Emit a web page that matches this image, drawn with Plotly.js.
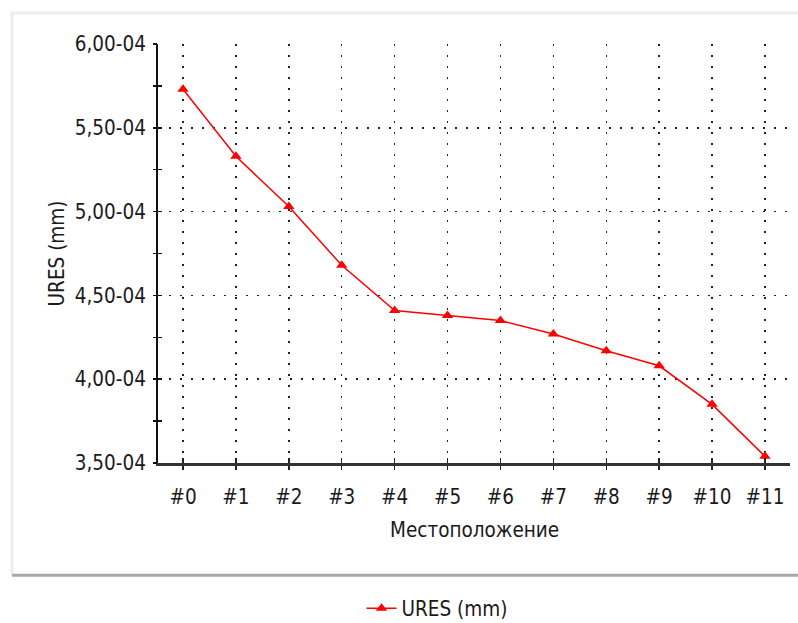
<!DOCTYPE html>
<html>
<head>
<meta charset="utf-8">
<script src="https://cdn.plot.ly/plotly-3.0.1.min.js"></script>
<style>
html,body{margin:0;padding:0;background:#fff;}
#chart{width:798px;height:623px;}
</style>
</head>
<body>
<div id="chart"></div>
<script>
const categories = ['#0','#1','#2','#3','#4','#5','#6','#7','#8','#9','#10','#11'];
const ures = [5.73e-4, 5.33e-4, 5.03e-4, 4.68e-4, 4.41e-4, 4.38e-4, 4.35e-4, 4.27e-4, 4.17e-4, 4.08e-4, 3.85e-4, 3.54e-4];
const yTickVals = [3.5e-4, 4.0e-4, 4.5e-4, 5.0e-4, 5.5e-4, 6.0e-4];
const yTickText = ['3,50-04', '4,00-04', '4,50-04', '5,00-04', '5,50-04', '6,00-04'];
const seriesName = 'URES (mm)';
const xTitle = 'Местоположение';
const yTitle = 'URES (mm)';

const FONT = '"DejaVu Sans Condensed", "Liberation Sans Narrow", "DejaVu Sans", sans-serif';
const TXT = '#1a1a1a';
const FS = 20.5;

const trace = {
  x: categories,
  y: ures,
  type: 'scatter',
  mode: 'lines+markers',
  name: seriesName,
  line: {color: '#ff0000', width: 1.5},
  marker: {symbol: 'triangle-up', color: '#ff0000', size: 10}
};

const anchorTrace = {x: categories, y: ures, xaxis: 'x2', yaxis: 'y2', type: 'scatter',
  mode: 'markers', marker: {opacity: 0, size: 1}, showlegend: false, hoverinfo: 'skip'};

const layout = {
  width: 798, height: 623,
  margin: {l: 158, r: 8, t: 44, b: 160, autoexpand: false},
  paper_bgcolor: '#ffffff',
  plot_bgcolor: '#ffffff',
  font: {family: FONT, size: FS, color: TXT},
  showlegend: true,
  legend: {
    orientation: 'h', x: 0.322, xanchor: 'left', y: -0.347, yanchor: 'middle',
    font: {family: FONT, size: FS, color: TXT}, bgcolor: 'rgba(0,0,0,0)'
  },
  xaxis: {
    type: 'category',
    range: [-0.473, 11.473],
    showline: true, linecolor: '#333333', linewidth: 3,
    showgrid: true, gridcolor: '#222222', gridwidth: 1.5, griddash: '1.5px,9.5px',
    ticks: 'outside', ticklen: 4, tickcolor: '#222222', tickwidth: 1.5,
    ticklabelstandoff: 9,
    tickfont: {family: FONT, size: FS, color: TXT},
    zeroline: false, fixedrange: true
  },
  xaxis2: {
    type: 'category', overlaying: 'x', anchor: 'y2', side: 'bottom',
    range: [-0.473, 11.473],
    showline: false, showgrid: false, showticklabels: false,
    ticks: 'inside', ticklen: 5, tickcolor: '#222222', tickwidth: 1.5,
    zeroline: false
  },
  yaxis: {
    range: [3.5e-4, 6.0e-4],
    tickmode: 'array', tickvals: yTickVals, ticktext: yTickText,
    showline: true, linecolor: '#111111', linewidth: 2,
    showgrid: true, gridcolor: '#222222', gridwidth: 1.5, griddash: '1.5px,9.5px',
    ticks: 'inside', ticklen: 4, tickcolor: '#111111', tickwidth: 1.5,
    ticklabelstandoff: 6,
    minor: {tick0: 3.5e-4, dtick: 0.25e-4, ticks: 'inside', ticklen: 4, tickcolor: '#111111', tickwidth: 1.5, showgrid: false},
    tickfont: {family: FONT, size: FS, color: TXT},
    zeroline: false, fixedrange: true
  },
  yaxis2: {
    overlaying: 'y', anchor: 'x2', side: 'left',
    range: [3.5e-4, 6.0e-4],
    tickmode: 'linear', tick0: 3.5e-4, dtick: 0.25e-4,
    showline: false, showgrid: false, showticklabels: false,
    ticks: 'outside', ticklen: 4, tickcolor: '#111111', tickwidth: 1.5,
    zeroline: false
  },
  annotations: [
    {text: yTitle, xref: 'paper', yref: 'paper', x: -0.160, y: 0.5, textangle: -90,
     showarrow: false, xanchor: 'center', yanchor: 'middle', font: {family: FONT, size: FS, color: TXT}},
    {text: xTitle, xref: 'paper', yref: 'paper', x: 0.5, y: -0.160,
     showarrow: false, xanchor: 'center', yanchor: 'middle', font: {family: FONT, size: FS, color: TXT}}
  ],
  shapes: [
    {type: 'line', xref: 'paper', yref: 'paper', layer: 'below',
     x0: -0.231, x1: -0.231, y0: 1.074, y1: -0.267, line: {color: '#ececec', width: 3}},
    {type: 'line', xref: 'paper', yref: 'paper', layer: 'below',
     x0: -0.233, x1: 1.02, y0: 1.074, y1: 1.074, line: {color: '#ececec', width: 3}},
    {type: 'line', xref: 'paper', yref: 'paper', layer: 'below',
     x0: -0.231, x1: 1.02, y0: -0.268, y1: -0.268, line: {color: '#a8a8a8', width: 3}}
  ]
};

Plotly.newPlot('chart', [trace, anchorTrace], layout, {displayModeBar: false, staticPlot: true});
</script>
</body>
</html>
